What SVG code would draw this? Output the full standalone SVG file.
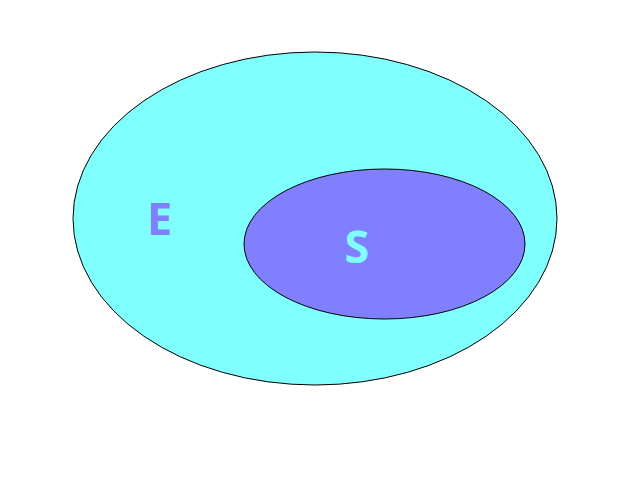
<svg xmlns="http://www.w3.org/2000/svg" width="640" height="480" viewBox="0 0 640 480">
<style>
.lbl{font-family:"Noto Sans",sans-serif;font-weight:bold;font-size:45px;text-anchor:middle}
</style>
<rect width="640" height="480" fill="#ffffff"/>
<g id="E">
<ellipse cx="315" cy="218.5" rx="242" ry="166.5" fill="#80ffff" stroke="#000000" stroke-width="1"/>
<text class="lbl" x="159.5" y="235" fill="#8080ff">E</text>
</g>
<g id="S">
<ellipse cx="384.5" cy="244" rx="140.5" ry="75" fill="#8080ff" stroke="#000000" stroke-width="1"/>
<text class="lbl" x="357" y="263" fill="#80ffff">S</text>
</g>
<g id="connectors"></g>
</svg>
